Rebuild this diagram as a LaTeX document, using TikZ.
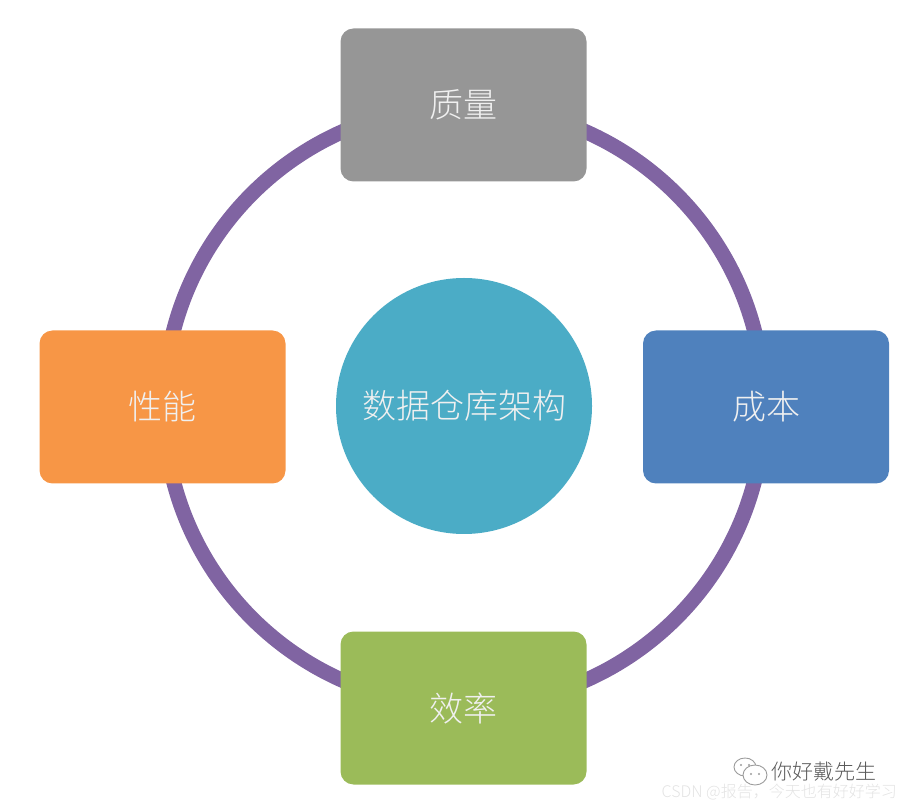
\documentclass[tikz,border=0pt]{standalone}
\usepackage{fontspec}
\newfontfamily\cjk{Noto Sans CJK SC Light}
\usetikzlibrary{positioning}
\definecolor{ringpurple}{HTML}{8064A2}
\definecolor{hubteal}{HTML}{4BACC6}
\definecolor{qgray}{HTML}{969696}
\definecolor{costblue}{HTML}{4F81BD}
\definecolor{perforange}{HTML}{F79646}
\definecolor{effgreen}{HTML}{9BBB59}
\definecolor{wmdark}{HTML}{5A5A5A}
\definecolor{wmlight}{HTML}{E3E3E3}

\tikzset{
  aspect/.style={rounded corners=13pt, minimum width=246pt, minimum height=153pt,
    inner sep=0pt, text=white!94!black, font=\cjk\fontsize{34}{40}\selectfont},
}

\begin{document}
\begin{tikzpicture}[x=1pt, y=1pt]

\useasboundingbox (0,0) rectangle (909,811);

% --- Ring behind everything ---
\draw[ringpurple, line width=15pt] (464,405) circle (300);

% --- Hub ---
\node[circle, fill=hubteal, minimum size=256pt, inner sep=0pt,
  text=white!94!black, font=\cjk\fontsize{34}{40}\selectfont] (hub) at (464,405) {数据仓库架构};

% --- Four aspects on the ring ---
\node[aspect, fill=qgray] (quality) at (463.5,706) {质量};
\node[aspect, fill=costblue] (cost) at (766,404) {成本};
\node[aspect, fill=effgreen] (efficiency) at (463.5,103) {效率};
\node[aspect, fill=perforange] (performance) at (162.5,404) {性能};

% --- Watermark ---
\begin{scope}[wmdark!60, line width=0.9pt]
  \draw (745,44) ellipse (11 and 9);
  \fill[white] (755,36) ellipse (12 and 10);
  \draw (755,36) ellipse (12 and 10);
  \fill (741,46) circle (1.2) (749,46) circle (1.2) (751,37) circle (1.2) (759,37) circle (1.2);
\end{scope}
\node[anchor=west, text=wmdark, font=\cjk\fontsize{21}{24}\selectfont, inner sep=0pt] (author) at (771,39) {你好戴先生};
\node[anchor=east, text=wmlight, font=\cjk\fontsize{16}{18}\selectfont, inner sep=0pt] (csdn) at (897,19) {CSDN @报告，今天也有好好学习};

\end{tikzpicture}
\end{document}
